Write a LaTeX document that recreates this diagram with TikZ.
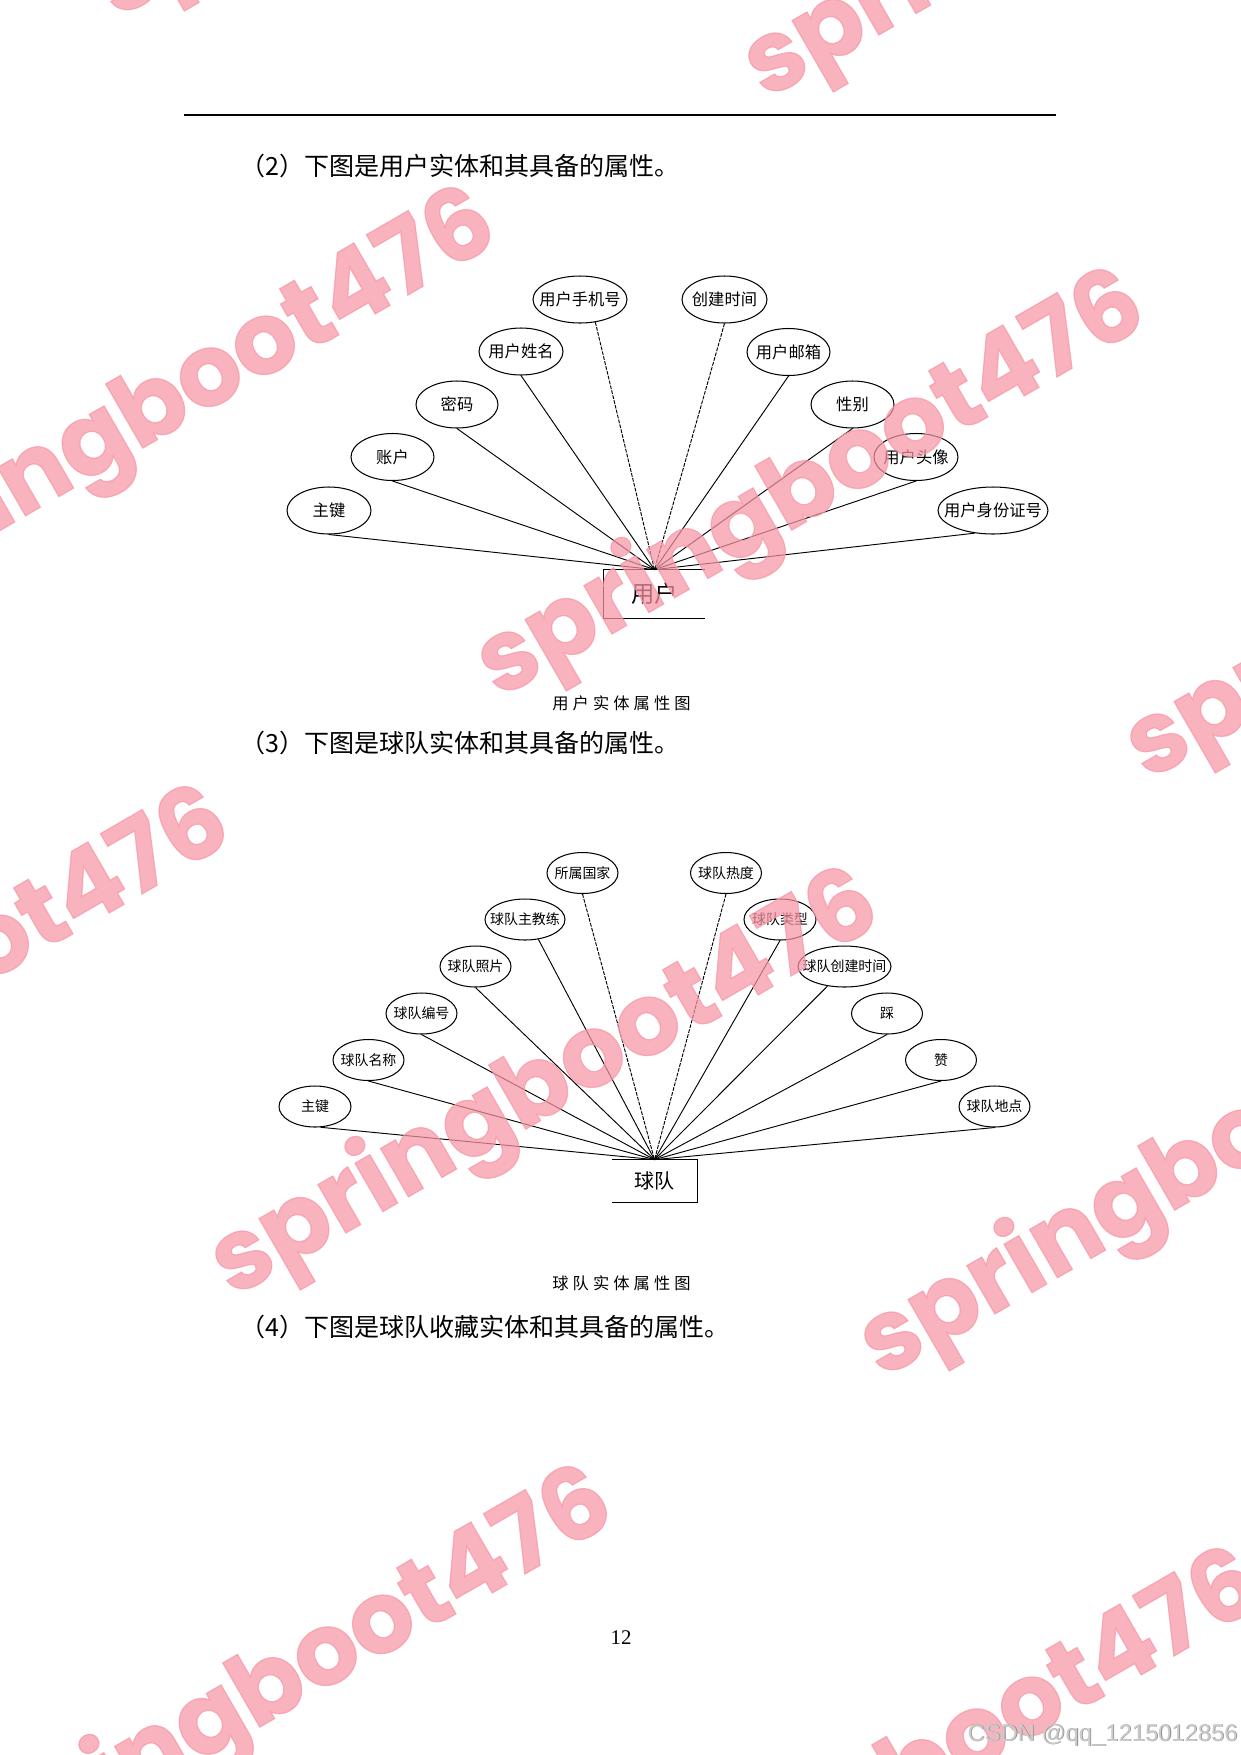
\documentclass[tikz,border=0pt]{standalone}
\usepackage{fontspec}
\setmainfont{Noto Sans CJK SC}
\newfontfamily\wmfont{Poppins}[FakeBold=1.2]
\newfontfamily\serifnum{Liberation Serif}
\newfontfamily\arialfont{Liberation Sans}
\usetikzlibrary{shapes.geometric}
\definecolor{wmpink}{RGB}{248,150,166}
\newcommand\pxu[1]{#1*0.47968pt}
\begin{document}
\begin{tikzpicture}[x=0.47968pt,y=-0.47968pt,
  ellA/.style={ellipse, draw, line width=0.5pt, inner sep=0pt, minimum height=\pxu{47}},
  ellB/.style={ellipse, draw, line width=0.5pt, inner sep=0pt, minimum height=\pxu{41}},
  lblA/.style={inner sep=0pt, font=\fontsize{7.8}{9}\selectfont},
  lblB/.style={inner sep=0pt, font=\fontsize{6.7}{8}\selectfont},
  conn/.style={line width=0.45pt},
  dashconn/.style={line width=0.45pt, dash pattern=on 1.8pt off 0.6pt},
  body/.style={anchor=west, inner sep=0pt, font=\fontsize{12}{14}\selectfont},
  captxt/.style={inner sep=0pt, font=\fontsize{7.8}{9}\selectfont},
  wm/.style={rotate=30, inner sep=0pt, text=wmpink, opacity=0.72, font=\wmfont\bfseries\fontsize{48}{52}\selectfont}
]
\useasboundingbox (0,0) rectangle (1241,1755);
\fill[white] (0,0) rectangle (1241,1755);

% header rule
\coordinate (hl) at (184,115);
\coordinate (hr) at (1056,115);
\draw[line width=\pxu{2}] (hl) -- (hr);

\node[body] (t2) at (240,166) {（2）下图是用户实体和其具备的属性。};

% ---------- user entity ----------
\node[inner sep=0pt, minimum width=\pxu{101}, minimum height=\pxu{48}, font=\fontsize{11.2}{13}\selectfont] (user) at (654.5,594) {用户};
\draw[line width=0.5pt] (user.north east) -- (user.north west) -- (user.south west) -- (user.south east);

\node[ellA, minimum width=\pxu{84}] (pk1) at (329,510.5) {};
\node[lblA] (pk1t) at (pk1) {主键};
\node[ellA, minimum width=\pxu{83}] (acct) at (392.5,457) {};
\node[lblA] (acctt) at (acct) {账户};
\node[ellA, minimum width=\pxu{82}] (pwd) at (457,404.5) {};
\node[lblA] (pwdt) at (pwd) {密码};
\node[ellA, minimum width=\pxu{84}] (uname) at (521,351.5) {};
\node[lblA] (unamet) at (uname) {用户姓名};
\node[ellA, minimum width=\pxu{94}] (phone) at (580,299.5) {};
\node[lblA] (phonet) at (phone) {用户手机号};
\node[ellA, minimum width=\pxu{85}] (ctime) at (724.5,299.5) {};
\node[lblA] (ctimet) at (ctime) {创建时间};
\node[ellA, minimum width=\pxu{83}] (mail) at (788.5,352) {};
\node[lblA] (mailt) at (mail) {用户邮箱};
\node[ellA, minimum width=\pxu{83}] (sex) at (852.5,404.5) {};
\node[lblA] (sext) at (sex) {性别};
\node[ellA, minimum width=\pxu{84}] (avatar) at (916,457) {};
\node[lblA] (avatart) at (avatar) {用户头像};
\node[ellA, minimum width=\pxu{110}] (idno) at (993,510.5) {};
\node[lblA] (idnot) at (idno) {用户身份证号};

\draw[conn] (pk1.south) -- (user.north);
\draw[conn] (acct.south) -- (user.north);
\draw[conn] (pwd.south) -- (user.north);
\draw[conn] (uname.south) -- (user.north);
\draw[dashconn] (phone.-56) -- (user.north);
\draw[dashconn] (ctime.south) -- (user.north);
\draw[conn] (mail.south) -- (user.north);
\draw[conn] (sex.south) -- (user.north);
\draw[conn] (avatar.south) -- (user.north);
\draw[conn] (idno.-129) -- (user.north);

\node[captxt] (cap1) at (621.5,703) {用\hspace{1.97pt}户\hspace{1.97pt}实\hspace{1.97pt}体\hspace{1.97pt}属\hspace{1.97pt}性\hspace{1.97pt}图};

\node[body] (t3) at (240,743) {（3）下图是球队实体和其具备的属性。};

% ---------- team entity ----------
\node[inner sep=0pt, minimum width=\pxu{85}, minimum height=\pxu{42}, font=\fontsize{9.6}{11}\selectfont] (team) at (654.5,1181) {球队};
\draw[line width=0.5pt] (team.north west) -- (team.north east) -- (team.south east) -- (team.south west);

\node[ellB, minimum width=\pxu{72}] (pk2) at (315,1106.5) {};
\node[lblB] (pk2t) at (pk2) {主键};
\node[ellB, minimum width=\pxu{71}] (tname) at (368.5,1060) {};
\node[lblB] (tnamet) at (tname) {球队名称};
\node[ellB, minimum width=\pxu{71}] (tno) at (421.5,1013.5) {};
\node[lblB] (tnot) at (tno) {球队编号};
\node[ellB, minimum width=\pxu{71}] (tphoto) at (475.5,966.5) {};
\node[lblB] (tphotot) at (tphoto) {球队照片};
\node[ellB, minimum width=\pxu{80}] (coach) at (525,919.5) {};
\node[lblB] (coacht) at (coach) {球队主教练};
\node[ellB, minimum width=\pxu{71}] (country) at (582.5,873) {};
\node[lblB] (countryt) at (country) {所属国家};
\node[ellB, minimum width=\pxu{71}] (heat) at (726,873) {};
\node[lblB] (heatt) at (heat) {球队热度};
\node[ellB, minimum width=\pxu{72}] (ttype) at (780,919.5) {};
\node[lblB] (ttypet) at (ttype) {球队类型};
\node[ellB, minimum width=\pxu{93}] (tctime) at (844.5,966.5) {};
\node[lblB] (tctimet) at (tctime) {球队创建时间};
\node[ellB, minimum width=\pxu{71}] (dislike) at (887,1013.5) {};
\node[lblB] (dislikest) at (dislike) {踩};
\node[ellB, minimum width=\pxu{71}] (like) at (941,1060) {};
\node[lblB] (liket) at (like) {赞};
\node[ellB, minimum width=\pxu{71}] (place) at (994.5,1106.5) {};
\node[lblB] (placet) at (place) {球队地点};

\draw[conn] (pk2.-75) -- (team.north);
\draw[conn] (tname.south) -- (team.north);
\draw[conn] (tno.south) -- (team.north);
\draw[conn] (tphoto.south) -- (team.north);
\draw[conn] (coach.-56) -- (team.north);
\draw[dashconn] (country.south) -- (team.north);
\draw[dashconn] (heat.south) -- (team.north);
\draw[conn] (ttype.south) -- (team.north);
\draw[conn] (tctime.-131) -- (team.north);
\draw[conn] (dislike.south) -- (team.north);
\draw[conn] (like.south) -- (team.north);
\draw[conn] (place.south) -- (team.north);

\node[captxt] (cap2) at (621.5,1283.5) {球\hspace{1.97pt}队\hspace{1.97pt}实\hspace{1.97pt}体\hspace{1.97pt}属\hspace{1.97pt}性\hspace{1.97pt}图};

\node[body] (t4) at (240,1327) {（4）下图是球队收藏实体和其具备的属性。};

% page number
\node[inner sep=0pt, font=\serifnum\fontsize{10}{12}\selectfont] (pageno) at (621,1638) {12};

% watermarks
\begin{scope}
\clip (0,0) rectangle (1241,1755);
\node[wm] (w1) at (163,406) {springboot476};
\node[wm] (w2) at (812,488) {springboot476};
\node[wm] (w3) at (-103,1005) {springboot476};
\node[wm] (w4) at (546,1087) {springboot476};
\node[wm] (w5) at (280,1685) {springboot476};
\node[wm] (w6) at (929,1767) {springboot476};
\node[wm] (w7) at (430,-192) {springboot476};
\node[wm] (w8) at (1079,-111) {springboot476};
\node[wm] (w9) at (1461,570) {springboot476};
\node[wm] (w10) at (1195,1168) {springboot476};
\end{scope}

% CSDN mark
\node[anchor=east, inner sep=0pt, text=black!45, font=\arialfont\fontsize{11.4}{13}\selectfont] (csdnS) at (1238.8,1735.8) {CSDN @qq\_1215012856};
\node[anchor=east, inner sep=0pt, text=black!20, font=\arialfont\fontsize{11.4}{13}\selectfont] (csdn) at (1238,1735) {CSDN @qq\_1215012856};
\end{tikzpicture}
\end{document}
